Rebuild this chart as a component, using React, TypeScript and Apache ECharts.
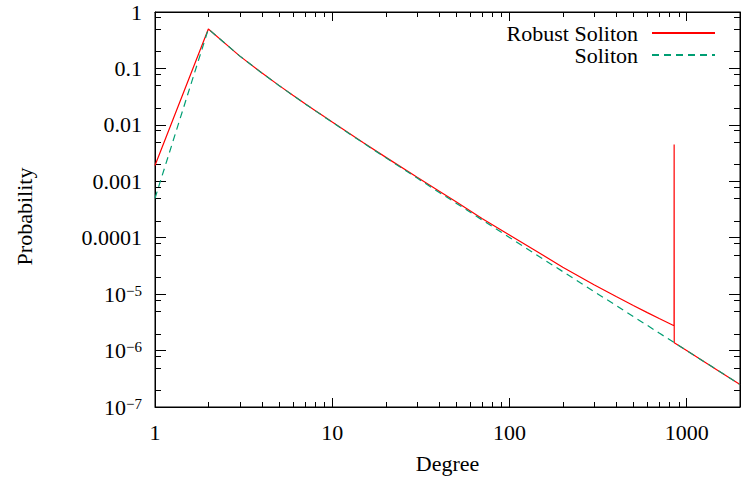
import React, { useEffect, useRef } from "react";
import * as echarts from "echarts";

// Degree distributions
const solitonDegrees = [1, 2, 3, 4, 5, 6, 7, 8, 9, 10, 15, 20, 30, 40, 50, 70, 100, 150, 200, 300, 400, 500, 600, 700, 850, 1000, 1500, 2000];
const solitonProb = [5e-4, 0.5, 0.167, 0.0833, 0.05, 0.0333, 0.0238, 0.0179, 0.0139, 0.0111, 0.00476, 0.00263, 0.00115, 6.4e-4, 4.1e-4, 2.07e-4, 1.01e-4, 4.47e-5, 2.51e-5, 1.11e-5, 6.3e-6, 4.0e-6, 2.8e-6, 2.04e-6, 1.39e-6, 1.0e-6, 4.45e-7, 2.5e-7];

const robustDegrees = [1, 2, 3, 4, 5, 6, 7, 8, 9, 10, 15, 20, 30, 40, 50, 70, 100, 150, 200, 300, 400, 500, 600, 700, 849, 850, 851, 1000, 1500, 2000];
const robustProb = [1.9e-3, 0.5, 0.167, 0.0835, 0.0501, 0.0334, 0.0239, 0.018, 0.014, 0.0112, 0.0048, 0.00268, 0.00119, 6.7e-4, 4.35e-4, 2.2e-4, 1.12e-4, 5.2e-5, 3.0e-5, 1.47e-5, 9.1e-6, 6.3e-6, 4.7e-6, 3.7e-6, 2.75e-6, 4.5e-3, 1.38e-6, 1.0e-6, 4.45e-7, 2.5e-7];

const seriesNames = ["Robust Soliton", "Soliton"];
const xMin = 1;
const xMax = 2000;
const yMin = 1e-7;
const yMax = 1;
const xMinorMultipliers = [2, 3, 4, 5, 6, 7, 8, 9];
const yMinorMultipliers = [2, 5, 8];
const xDecades = [1, 10, 100, 1000];
const yDecades = [1e-7, 1e-6, 1e-5, 1e-4, 1e-3, 1e-2, 1e-1];

const FONT = "Liberation Serif";

function yLabel(v: number): string {
  const e = Math.round(Math.log10(v));
  if (Math.abs(Math.log10(v) - e) > 0.01) return "";
  if (e >= -4) return e === 0 ? "1" : "0." + "0".repeat(-e - 1) + "1";
  return "10{sup|\u2212" + -e + "}";
}

function xLabel(v: number): string {
  const l = Math.log10(v);
  const e = Math.round(l);
  if (Math.abs(l - e) > 0.01) return "";
  return String(Math.pow(10, e));
}

export default function App() {
  const ref = useRef<HTMLDivElement>(null);
  useEffect(() => {
    if (!ref.current) return;
    const chart = echarts.init(ref.current, null, { renderer: "svg" });
    const xAxisBase = {
      type: "log" as const,
      logBase: 10,
      min: xMin,
      max: xMax,
      splitNumber: 3,
      axisLine: { show: true, onZero: false, lineStyle: { color: "#000", width: 1 } },
      splitLine: { show: false },
      axisTick: { show: true, inside: true, length: 9, lineStyle: { color: "#000", width: 1 } },
    };
    const yAxisBase = {
      type: "log" as const,
      logBase: 10,
      min: yMin,
      max: yMax,
      splitNumber: 7,
      axisLine: { show: true, onZero: false, lineStyle: { color: "#000", width: 1 } },
      splitLine: { show: false },
      axisTick: { show: true, inside: true, length: 11, lineStyle: { color: "#000", width: 1 } },
    };
    chart.setOption({
      animation: false,
      backgroundColor: "#fff",
      textStyle: { fontFamily: FONT, fontSize: 22, color: "#000" },
      grid: { show: true, borderColor: "#000", borderWidth: 1, backgroundColor: "transparent", left: 155, right: 1, top: 12, bottom: 66, containLabel: false },
      legend: {
        show: true,
        orient: "vertical",
        align: "right",
        right: 25,
        top: 22,
        padding: 0,
        itemWidth: 63,
        itemHeight: 14,
        itemGap: 0,
        data: seriesNames,
        itemStyle: { opacity: 0 },
        textStyle: { fontFamily: FONT, fontSize: 22, color: "#000", lineHeight: 21, padding: [0, 9, 0, 0] },
      },
      xAxis: [
        {
          ...xAxisBase,
          position: "bottom",
          name: "Degree",
          nameLocation: "middle",
          nameGap: 45,
          nameTextStyle: { fontFamily: FONT, fontSize: 22, color: "#000" },
          axisLabel: {
            show: true,
            margin: 14,
            fontFamily: FONT,
            fontSize: 22,
            color: "#000",
            formatter: (v: number) => xLabel(v),
            showMaxLabel: false,
          },
        },
        { ...xAxisBase, position: "top", axisLabel: { show: false } },
      ],
      yAxis: [
        {
          ...yAxisBase,
          position: "left",
          name: "Probability",
          nameLocation: "middle",
          nameGap: 120,
          nameRotate: 90,
          nameTextStyle: { fontFamily: FONT, fontSize: 22, color: "#000", padding: [0, 14, 0, 0] },
          axisLabel: {
            show: true,
            margin: 13,
            fontFamily: FONT,
            fontSize: 22,
            color: "#000",
            formatter: (v: number) => yLabel(v),
            rich: {
              sup: { fontFamily: FONT, fontSize: 15, lineHeight: 15, verticalAlign: "top", color: "#000" },
            },
          },
        },
        { ...yAxisBase, position: "right", axisLabel: { show: false } },
      ],
      series: [
        {
          name: seriesNames[0],
          type: "line",
          symbol: "none",
          showSymbol: false,
          xAxisIndex: 0,
          yAxisIndex: 0,
          color: "#ff0000",
          lineStyle: { color: "#ff0000", width: 1.2 },
          data: robustDegrees.map((d, i) => [d, robustProb[i]]),
          clip: true,
        },
        {
          name: seriesNames[1],
          type: "line",
          symbol: "none",
          showSymbol: false,
          xAxisIndex: 0,
          yAxisIndex: 0,
          color: "#009e73",
          lineStyle: { color: "#009e73", width: 1.2, type: [7, 5] },
          data: solitonDegrees.map((d, i) => [d, solitonProb[i]]),
          clip: true,
        },
      ],
    });

    // Minor ticks on all four sides, placed through the axes' own scales
    const gx = (v: number) => chart.convertToPixel({ xAxisIndex: 0 }, v) as number;
    const gy = (v: number) => chart.convertToPixel({ yAxisIndex: 0 }, v) as number;
    const left = gx(xMin);
    const right = gx(xMax);
    const top = gy(yMax);
    const bottom = gy(yMin);
    const minor: any[] = [];
    const tickStyle = { stroke: "#000", lineWidth: 1 };
    xDecades.forEach((dec) => {
      xMinorMultipliers.forEach((m) => {
        const v = dec * m;
        if (v >= xMax) return;
        const px = Math.round(gx(v)) + 0.5;
        minor.push({ type: "line", shape: { x1: px, y1: bottom, x2: px, y2: bottom - 5 }, style: tickStyle, silent: true });
        minor.push({ type: "line", shape: { x1: px, y1: top, x2: px, y2: top + 5 }, style: tickStyle, silent: true });
      });
    });
    yDecades.forEach((dec) => {
      yMinorMultipliers.forEach((m) => {
        const v = dec * m;
        if (v >= yMax) return;
        const py = Math.round(gy(v)) + 0.5;
        minor.push({ type: "line", shape: { x1: left, y1: py, x2: left + 6, y2: py }, style: tickStyle, silent: true });
        minor.push({ type: "line", shape: { x1: right, y1: py, x2: right - 6, y2: py }, style: tickStyle, silent: true });
      });
    });
    chart.setOption({ graphic: minor });

    return () => chart.dispose();
  }, []);
  return <div ref={ref} style={{ position: "fixed", left: 0, top: 0, width: 741, height: 479 }} />;
}
